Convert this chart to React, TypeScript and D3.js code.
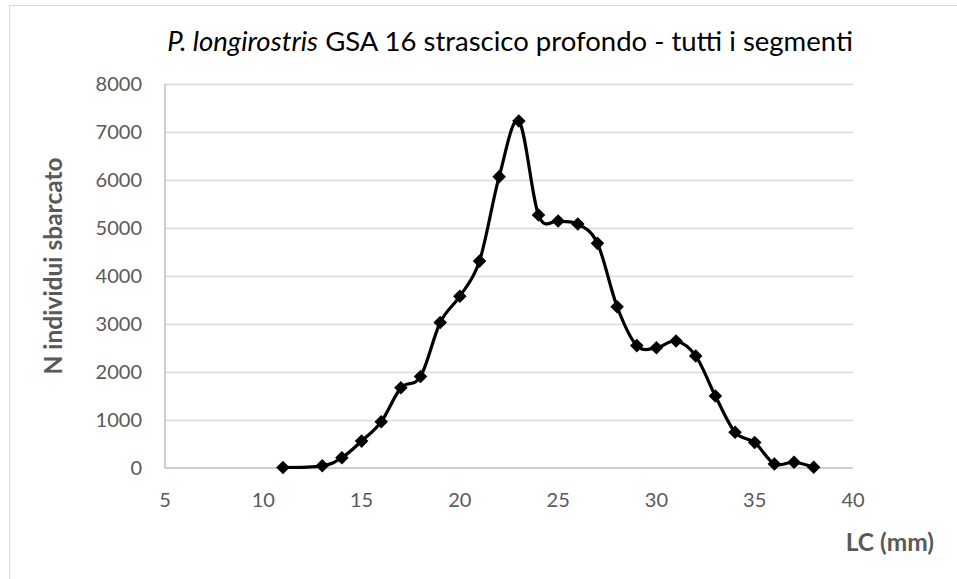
import React, { useEffect, useRef } from 'react';
import * as d3 from 'd3';

// LC (mm) classes and number of landed individuals
const lcClasses = [11, 13, 14, 15, 16, 17, 18, 19, 20, 21, 22, 23, 24, 25, 26, 27, 28, 29, 30, 31, 32, 33, 34, 35, 36, 37, 38];
const nIndividui = [10, 45, 215, 560, 965, 1670, 1905, 3030, 3580, 4310, 6070, 7230, 5270, 5145, 5085, 4680, 3360, 2550, 2505, 2645, 2335, 1500, 745, 530, 85, 120, 15];

const xTicks = [5, 10, 15, 20, 25, 30, 35, 40];
const yTicks = [0, 1000, 2000, 3000, 4000, 5000, 6000, 7000, 8000];

const titleItalic = 'P. longirostris';
const titleRest = ' GSA 16 strascico profondo - tutti i segmenti';
const yTitle = 'N individui sbarcato';
const xTitle = 'LC (mm)';

const W = 957;
const H = 579;

export default function App() {
    const node = useRef<SVGSVGElement>(null);

    useEffect(() => {
        const svg = d3.select(node.current);
        svg.selectAll('*').remove();

        const font = 'Lato, Carlito, Calibri, sans-serif';
        const grey = '#595959';

        let x = d3.scaleLinear().domain([5, 40]).range([165, 853]);
        let y = d3.scaleLinear().domain([0, 8000]).range([468, 84]);

        // outer chart border (cut by the picture on the right and bottom)
        svg.append('rect')
            .attr('x', 9.5).attr('y', 5.5)
            .attr('width', W + 20).attr('height', H + 20)
            .attr('fill', 'white')
            .attr('stroke', '#d9d9d9');

        // gridlines
        svg.append('g')
            .selectAll('line')
            .data(yTicks.filter((t) => t > 0))
            .enter().append('line')
            .attr('x1', x(5)).attr('x2', x(40))
            .attr('y1', (d) => Math.round(y(d)) + 0.5)
            .attr('y2', (d) => Math.round(y(d)) + 0.5)
            .attr('stroke', '#d9d9d9')
            .attr('stroke-width', 1.5);

        // axes lines
        svg.append('line')
            .attr('x1', x(5)).attr('x2', x(40))
            .attr('y1', y(0)).attr('y2', y(0))
            .attr('stroke', '#bfbfbf').attr('stroke-width', 1.5);
        svg.append('line')
            .attr('x1', x(5)).attr('x2', x(5))
            .attr('y1', y(0)).attr('y2', y(8000))
            .attr('stroke', '#bfbfbf').attr('stroke-width', 1.5);

        // tick labels
        svg.append('g')
            .selectAll('text')
            .data(yTicks)
            .enter().append('text')
            .attr('x', 142)
            .attr('y', (d) => y(d))
            .attr('dy', '0.35em')
            .attr('text-anchor', 'end')
            .attr('font-family', font)
            .attr('font-size', 20)
            .attr('fill', grey)
            .text((d) => d);

        svg.append('g')
            .selectAll('text')
            .data(xTicks)
            .enter().append('text')
            .attr('x', (d) => x(d))
            .attr('y', 507)
            .attr('text-anchor', 'middle')
            .attr('font-family', font)
            .attr('font-size', 20)
            .attr('fill', grey)
            .text((d) => d);

        // title
        let title = svg.append('text')
            .attr('x', 510)
            .attr('y', 51)
            .attr('text-anchor', 'middle')
            .attr('font-family', font)
            .attr('font-size', 27.5)
            .attr('fill', 'black');
        title.append('tspan').attr('font-style', 'italic').text(titleItalic);
        title.append('tspan').text(titleRest);

        // axis titles
        svg.append('text')
            .attr('transform', `translate(62,266) rotate(-90)`)
            .attr('text-anchor', 'middle')
            .attr('font-family', font)
            .attr('font-weight', 'bold')
            .attr('font-size', 24.5)
            .attr('fill', grey)
            .text(yTitle);

        svg.append('text')
            .attr('x', 934)
            .attr('y', 551)
            .attr('text-anchor', 'end')
            .attr('font-family', font)
            .attr('font-weight', 'bold')
            .attr('font-size', 24.5)
            .attr('fill', grey)
            .text(xTitle);

        // smoothed line
        const pts: [number, number][] = lcClasses.map((c, i) => [c, nIndividui[i]]);
        let line = d3.line<[number, number]>()
            .x((d) => x(d[0]))
            .y((d) => y(d[1]))
            .curve(d3.curveCatmullRom.alpha(0));

        svg.append('path')
            .attr('d', line(pts))
            .attr('fill', 'none')
            .attr('stroke', 'black')
            .attr('stroke-width', 3.2)
            .attr('stroke-linejoin', 'round');

        // diamond markers
        let marker = d3.symbol().type(d3.symbolSquare).size(92);
        svg.append('g')
            .selectAll('path')
            .data(pts)
            .enter().append('path')
            .attr('d', marker)
            .attr('transform', (d) => `translate(${x(d[0])},${y(d[1])}) rotate(45)`)
            .attr('fill', 'black');
    }, []);

    return (
        <svg ref={node} width={W} height={H}
            style={{ position: 'absolute', left: 0, top: 0, background: 'white' }}>
        </svg>
    );
}
